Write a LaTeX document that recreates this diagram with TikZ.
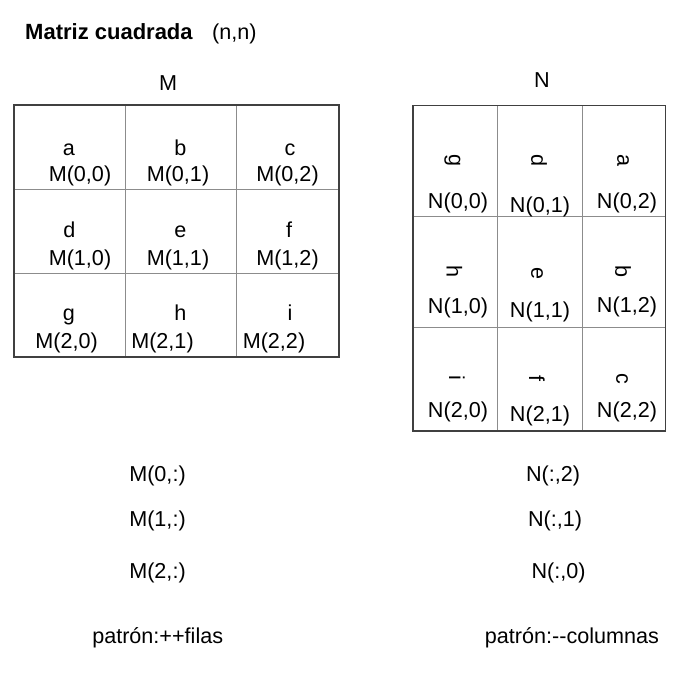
\documentclass[tikz,border=0pt]{standalone}
\usepackage{fontspec}
\setmainfont{Liberation Sans}
\usetikzlibrary{positioning}
\tikzset{
  txt/.style={inner sep=0pt, anchor=base, font=\fontsize{21.6}{26}\selectfont},
  ttl/.style={txt, font=\fontsize{22}{26}\selectfont\bfseries},
  elem/.style={txt},
  turned/.style={txt, anchor=center, rotate=-90},
  cellline/.style={draw=black!45, line width=1pt},
  frameline/.style={draw=black!75, line width=1.3pt},
}

\begin{document}
\begin{tikzpicture}[x=1pt, y=-1pt]
  \useasboundingbox (0,0) rectangle (686,681);
  % heading
  \node[ttl, anchor=base west] (title) at (25,39) {Matriz cuadrada};
  \node[txt, anchor=base west] (dims) at (212,39) {(n,n)};
  \node[txt] (nameM) at (168,90) {M};
  \node[txt] (nameN) at (542,87) {N};

  % matrix M
  \draw[cellline] (125,105) -- (125,357) (236,105) -- (236,357)
                  (14,189) -- (339,189) (14,273) -- (339,273);
  \draw[frameline] (14,105) rectangle (339,357);
  \node[elem] (ma) at (69,155) {a};
  \node[elem] (mb) at (180.5,155) {b};
  \node[elem] (mc) at (290,155) {c};
  \node[elem] (m00) at (80,181.7) {M(0,0)};
  \node[elem] (m01) at (178,181.7) {M(0,1)};
  \node[elem] (m02) at (287.5,181.7) {M(0,2)};
  \node[elem] (md) at (69.5,237.5) {d};
  \node[elem] (me) at (180.5,237.5) {e};
  \node[elem] (mf) at (289,237.5) {f};
  \node[elem] (m10) at (80,265) {M(1,0)};
  \node[elem] (m11) at (178,265) {M(1,1)};
  \node[elem] (m12) at (287.5,265) {M(1,2)};
  \node[elem] (mg) at (69,320.5) {g};
  \node[elem] (mh) at (180.5,320.5) {h};
  \node[elem] (mi) at (290,320.5) {i};
  \node[elem] (m20) at (66.7,348.3) {M(2,0)};
  \node[elem] (m21) at (162.5,348.3) {M(2,1)};
  \node[elem] (m22) at (274,348.3) {M(2,2)};

  % matrix N (letters turned a quarter clockwise)
  \draw[cellline] (497.5,105.5) -- (497.5,431) (582,105.5) -- (582,431)
                  (413,216) -- (665.5,216) (413,327) -- (665.5,327);
  \draw[frameline] (413,105.5) rectangle (665.5,431);
  \node[turned] (ng) at (452.5,161) {g};
  \node[turned] (nd) at (539,161) {d};
  \node[turned] (na) at (623,161) {a};
  \node[elem] (n00) at (458,208) {N(0,0)};
  \node[elem] (n01) at (540,212.5) {N(0,1)};
  \node[elem] (n02) at (627,208) {N(0,2)};
  \node[turned] (nh) at (454.5,272) {h};
  \node[turned] (ne) at (537,273) {e};
  \node[turned] (nb) at (623,272) {b};
  \node[elem] (n10) at (458,313) {N(1,0)};
  \node[elem] (n11) at (540,317) {N(1,1)};
  \node[elem] (n12) at (627,312.5) {N(1,2)};
  \node[turned] (ni) at (457,378) {i};
  \node[turned] (nf) at (537,378) {f};
  \node[turned] (nc) at (622,379) {c};
  \node[elem] (n20) at (458,417.3) {N(2,0)};
  \node[elem] (n21) at (540,421.7) {N(2,1)};
  \node[elem] (n22) at (627,417.3) {N(2,2)};

  % access patterns
  \node[txt] (rowM0) at (157.5,481) {M(0,:)};
  \node[txt] (rowM1) at (157.5,526.7) {M(1,:)};
  \node[txt] (rowM2) at (157.5,578) {M(2,:)};
  \node[txt] (colN2) at (553,481.7) {N(:,2)};
  \node[txt] (colN1) at (555,526.7) {N(:,1)};
  \node[txt] (colN0) at (558.5,578) {N(:,0)};
  \node[txt] (patM) at (157.7,643.3) {patrón:++filas};
  \node[txt] (patN) at (572,643) {patrón:-{}-columnas};
\end{tikzpicture}
\end{document}
